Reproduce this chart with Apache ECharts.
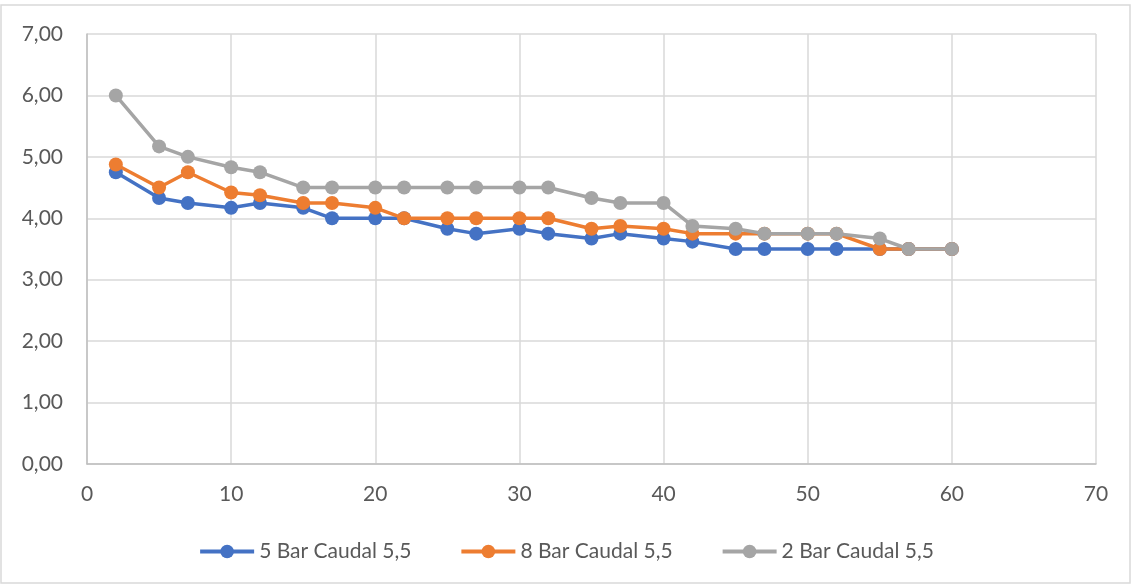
<!DOCTYPE html>
<html>
<head>
<meta charset="utf-8">
<script src="https://cdn.jsdelivr.net/npm/echarts@6/dist/echarts.min.js"></script>
<style>
  html, body { margin: 0; padding: 0; background: #fff; }
  #chart { width: 1132px; height: 584px; }
</style>
</head>
<body>
<div id="chart"></div>
<script>
// Sample positions (x) shared by all three series
const xValues = [2, 5, 7, 10, 12, 15, 17, 20, 22, 25, 27, 30, 32, 35, 37, 40, 42, 45, 47, 50, 52, 55, 57, 60];

const seriesNames = ['5 Bar Caudal 5,5', '8 Bar Caudal 5,5', '2 Bar Caudal 5,5'];
const seriesColors = ['#4472c4', '#ed7d31', '#a5a5a5'];

const bar5 = [4.75, 4.33, 4.25, 4.17, 4.25, 4.17, 4.00, 4.00, 4.00, 3.83, 3.75, 3.83, 3.75, 3.67, 3.75, 3.67, 3.62, 3.50, 3.50, 3.50, 3.50, 3.50, 3.50, 3.50];
const bar8 = [4.875, 4.50, 4.75, 4.42, 4.375, 4.25, 4.25, 4.17, 4.00, 4.00, 4.00, 4.00, 4.00, 3.83, 3.875, 3.83, 3.75, 3.75, 3.75, 3.75, 3.75, 3.50, 3.50, 3.50];
const bar2 = [6.00, 5.17, 5.00, 4.83, 4.75, 4.50, 4.50, 4.50, 4.50, 4.50, 4.50, 4.50, 4.50, 4.33, 4.25, 4.25, 3.875, 3.83, 3.75, 3.75, 3.75, 3.67, 3.50, 3.50];

const seriesValues = [bar5, bar8, bar2];

const font = 'Lato, Open Sans, sans-serif';
const textColor = '#595959';
const chart = echarts.init(document.getElementById('chart'));

chart.setOption({
  animation: false,
  // outer chart frame
  graphic: [{
    type: 'rect',
    shape: { x: 1, y: 5, width: 1129, height: 578 },
    style: { fill: 'none', stroke: '#d9d9d9', lineWidth: 1.5 },
    silent: true
  }],
  grid: { left: 87, right: 36, top: 34, bottom: 120 },
  xAxis: {
    type: 'value', min: 0, max: 70, interval: 10,
    axisLine: { show: true, lineStyle: { color: '#bfbfbf', width: 1.5 } },
    axisTick: { show: false },
    axisLabel: { color: textColor, fontSize: 21, fontFamily: font, margin: 20 },
    splitLine: { show: true, lineStyle: { color: '#d9d9d9', width: 1.5 } }
  },
  yAxis: {
    type: 'value', min: 0, max: 7, interval: 1,
    axisLine: { show: true, lineStyle: { color: '#bfbfbf', width: 1.5 } },
    axisTick: { show: false },
    axisLabel: {
      color: textColor, fontSize: 21, fontFamily: font, margin: 24,
      formatter: v => v.toFixed(2).replace('.', ',')
    },
    splitLine: { show: true, lineStyle: { color: '#d9d9d9', width: 1.5 } }
  },
  legend: {
    top: 536, left: 'center',
    itemWidth: 54, itemHeight: 17, itemGap: 48,
    lineStyle: { width: 4 },
    textStyle: { color: textColor, fontSize: 21, fontFamily: font },
    data: seriesNames
  },
  series: seriesNames.map((name, i) => ({
    name,
    type: 'line',
    data: xValues.map((x, j) => [x, seriesValues[i][j]]),
    symbol: 'circle',
    symbolSize: 14,
    color: seriesColors[i],
    lineStyle: { width: 3.5, color: seriesColors[i] },
    itemStyle: { color: seriesColors[i] },
    z: 2 + i
  }))
});
</script>
</body>
</html>
